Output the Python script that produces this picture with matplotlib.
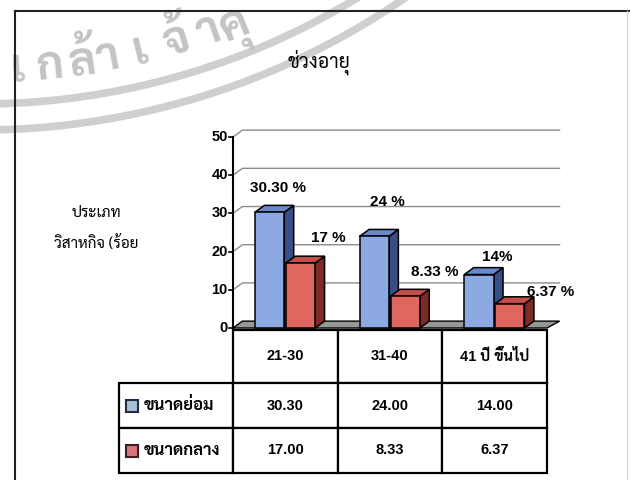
import numpy as np
import matplotlib
matplotlib.use("Agg")
import matplotlib.pyplot as plt
from matplotlib import font_manager
from matplotlib.patches import Rectangle, Polygon, Arc
from matplotlib.lines import Line2D
from matplotlib.table import Table

categories = ['21-30', '31-40', '41 ปี ขึ้นไป']
series_names = ['ขนาดย่อม', 'ขนาดกลาง']
small = [30.30, 24.00, 14.00]
medium = [17.00, 8.33, 6.37]
small_labels = ['30.30 %', '24 %', '14%']
medium_labels = ['17 %', '8.33 %', '6.37 %']
yticks = [0, 10, 20, 30, 40, 50]

# pick a Thai font that also comes with a bold face
weights = {}
for f in font_manager.fontManager.ttflist:
    weights.setdefault(f.name, set()).add(f.weight)
thai_font = next(n for n in ['Sarabun', 'Noto Sans Thai', 'Noto Sans Thai Looped',
                             'Bai Jamjuree', 'Athiti']
                 if n in weights and (700 in weights[n] or 'bold' in weights[n]))
plt.rcParams['font.family'] = ['Liberation Sans', thai_font]

W_PX, H_PX = 630, 480
fig = plt.figure(figsize=(6.3, 4.8), dpi=100)

# faint stamp in the background
wax = fig.add_axes([0, 0, 1, 1], zorder=0)
wax.set_xlim(0, W_PX)
wax.set_ylim(H_PX, 0)
wax.axis('off')
cx, cy = -20, -620
for r in (724, 750):
    wax.add_patch(Arc((cx, cy), 2 * r, 2 * r, color='#cfcfcf', lw=5.5))
stamp = ['เ', 'ก', 'ล้', 'า', 'เ', 'จ้', 'า', 'คุ']
stamp_x = [18, 50, 82, 108, 140, 176, 208, 236]
for ch, x in zip(stamp, stamp_x):
    R = 690
    y = max(cy + np.sqrt(R ** 2 - (x - cx) ** 2), 30)
    ang = np.degrees(np.arcsin((x - cx) / R))
    wax.text(x, y, ch, fontsize=33, color='#c4c4c4', ha='center', va='center',
             fontweight='bold', rotation=ang, rotation_mode='anchor', family=thai_font)

# outer frame
fig.add_artist(Line2D([15 / W_PX, 15 / W_PX], [0, 1 - 11 / H_PX], color='#222222', lw=1.5))
fig.add_artist(Line2D([15 / W_PX, 1], [1 - 11 / H_PX, 1 - 11 / H_PX], color='#222222', lw=1.5))
fig.add_artist(Line2D([627 / W_PX, 627 / W_PX], [0, 1 - 11 / H_PX], color='#d8d8d8', lw=1))

fig.text(319 / W_PX, 1 - 62 / H_PX, 'ช่วงอายุ', ha='center', va='center',
         fontsize=14, family=thai_font)
fig.text(96 / W_PX, 1 - 213 / H_PX, 'ประเภท', ha='center', va='center',
         fontsize=11, family=thai_font)
fig.text(96 / W_PX, 1 - 243 / H_PX, 'วิสาหกิจ (ร้อย', ha='center', va='center',
         fontsize=11, family=thai_font)

# pseudo-3d column chart
ax = fig.add_axes([233 / W_PX, 1 - 328 / H_PX, 314 / W_PX, 191 / H_PX], zorder=2)
ax.set_xlim(-0.5, 2.5)
ax.set_ylim(0, 50)
ax.axis('off')
DX, DY = 0.09, 1.8
x0, x1 = -0.5, len(categories) - 0.5

for v in yticks[1:]:
    ax.plot([x0, x0 + DX, x1 + DX + 0.03], [v, v + DY, v + DY], color='#8c8c8c',
            lw=1.0, clip_on=False, zorder=1)
ax.add_patch(Polygon([(x0, 0), (x1, 0), (x1 + DX + 0.03, DY), (x0 + DX, DY)],
                     closed=True, fc='#979797', ec='black', lw=1, clip_on=False, zorder=2))
ax.plot([x0, x0], [0, yticks[-1]], color='black', lw=1.5, clip_on=False, zorder=3)
for v in yticks:
    ax.plot([x0 - 0.035, x0], [v, v], color='black', lw=1.2, clip_on=False, zorder=3)
    ax.text(x0 - 0.05, v, str(v), ha='right', va='center', fontsize=10.5,
            fontweight='bold')

W = 0.28
offs = [-0.29, 0.005]
faces = [('#8caae1', '#6a88cc', '#394e86'), ('#e0675f', '#c44e49', '#7e2a28')]


def bar3d(x, h, cols, z):
    front, top, side = cols
    kw = dict(ec='black', lw=1.1, zorder=z, clip_on=False)
    ax.add_patch(Polygon([(x + W, 0), (x + W + DX, DY), (x + W + DX, h + DY), (x + W, h)],
                         closed=True, fc=side, **kw))
    ax.add_patch(Polygon([(x, h), (x + W, h), (x + W + DX, h + DY), (x + DX, h + DY)],
                         closed=True, fc=top, **kw))
    ax.add_patch(Rectangle((x, 0), W, h, fc=front, **kw))


small_off = [(0.035, 6.3), (0.08, 9.0), (0.13, 4.6)]
medium_off = [(0.22, 6.6), (0.24, 6.3), (0.34, 3.0)]
for i in range(len(categories)):
    for k, (vals, labs, lo) in enumerate([(small, small_labels, small_off),
                                          (medium, medium_labels, medium_off)]):
        xb = i + offs[k]
        bar3d(xb, vals[i], faces[k], 4 + 2 * i + k)
        xc = xb + W / 2 + DX / 2
        ax.text(xc + lo[i][0], vals[i] + lo[i][1], labs[i], ha='center', va='center',
                fontsize=11, fontweight='bold', zorder=20)

# data table under the chart
tax = fig.add_axes([119 / W_PX, 1 - 473 / H_PX, 428 / W_PX, 143 / H_PX], zorder=1)
tax.axis('off')
colw = [114 / 428] + [(314 / 3) / 428] * 3
rowh = [53 / 143, 45 / 143, 45 / 143]
tbl = Table(tax, bbox=[0, 0, 1, 1])
tbl.auto_set_font_size(False)
for j, c in enumerate(categories):
    tbl.add_cell(0, j + 1, colw[j + 1], rowh[0], text=c, loc='center')
for i, (name, vals) in enumerate(zip(series_names, [small, medium])):
    cell = tbl.add_cell(i + 1, 0, colw[0], rowh[i + 1], text=name, loc='left')
    cell.PAD = 0.22
    for j, v in enumerate(vals):
        tbl.add_cell(i + 1, j + 1, colw[j + 1], rowh[i + 1], text=f'{v:.2f}', loc='center')
for (r, c), cell in tbl.get_celld().items():
    cell.set_linewidth(1.6)
    cell.get_text().set_fontsize(12 if c == 0 else 10.5)
    cell.get_text().set_fontweight('bold')
tax.add_table(tbl)

swatch = [('#a9bfd4', '#1e2e3e'), ('#d9747f', '#3e1e1e')]
sw, sh = 12 / 428, 12 / 143
ytop = 1 - rowh[0]
for i, (fc, ec) in enumerate(swatch):
    yc = ytop - sum(rowh[1:i + 1]) - rowh[i + 1] / 2
    tax.add_patch(Rectangle((7 / 428, yc - sh / 2), sw, sh, fc=fc, ec=ec, lw=1.5,
                            transform=tax.transAxes, zorder=5))

fig.savefig('out.png', dpi=100)
